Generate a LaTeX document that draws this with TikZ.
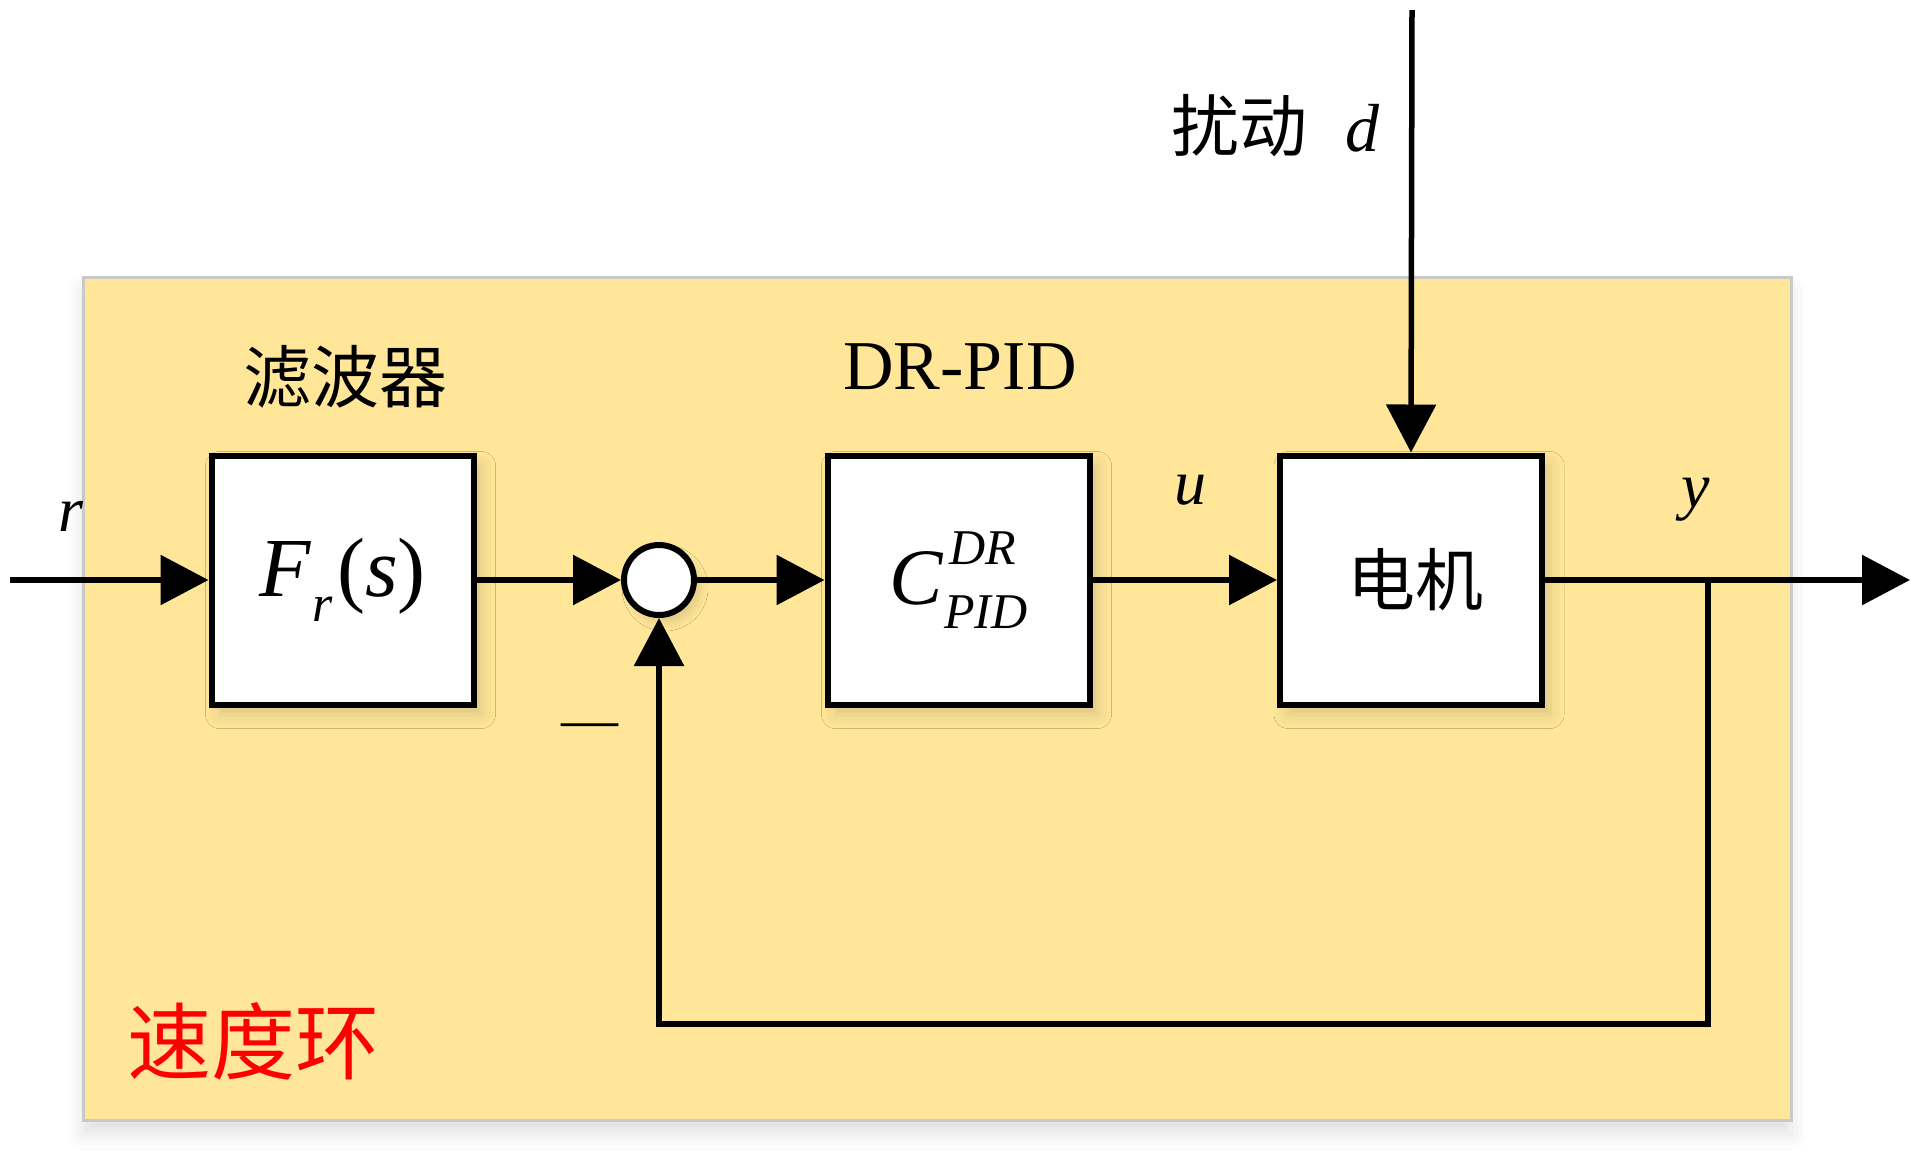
\documentclass[tikz,border=0pt]{standalone}
\usepackage{fontspec}
\setmainfont{Liberation Serif}
\newfontfamily\cjk{Noto Sans CJK SC}
\usetikzlibrary{arrows.meta,shadows.blur}
\definecolor{loopyellow}{HTML}{FFE699}
\definecolor{loopedge}{HTML}{C9C9C9}
\begin{document}
\begin{tikzpicture}[x=1pt,y=-1pt,
  blockbox/.style={draw=black,line width=6pt,fill=white,minimum width=262pt,minimum height=249pt,inner sep=0pt,
    blur shadow={shadow xshift=8pt,shadow yshift=-10pt,shadow blur radius=14pt,shadow opacity=14}},
  sumnode/.style={circle,draw=black,line width=6pt,fill=white,minimum size=70pt,inner sep=0pt,
    blur shadow={shadow xshift=6pt,shadow yshift=-8pt,shadow blur radius=8pt,shadow opacity=12}},
  conn/.style={line width=6pt},
  arr/.style={conn,-{Triangle[length=48pt,width=49pt]}},
  cjklabel/.style={font=\cjk\fontsize{68}{80}\selectfont,inner sep=0pt},
  varlabel/.style={font=\fontsize{64}{70}\selectfont\itshape,inner sep=0pt}
]
\useasboundingbox (0,0) rectangle (1920,1163);
% loop background
\node[draw=loopedge,line width=3pt,fill=loopyellow,minimum width=1708pt,minimum height=843pt,inner sep=0pt,
  blur shadow={shadow xshift=0pt,shadow yshift=-14pt,shadow blur radius=16pt,shadow opacity=12}] (loop) at (937,698.5) {};
\node[font=\cjk\fontsize{84}{90}\selectfont,text=red,inner sep=0pt] (looplbl) at (253,1041) {速度环};

% blocks
\node[blockbox] (filt) at (342.5,580) {\fontsize{84}{90}\selectfont\itshape F\kern0.02em\raisebox{-0.3em}{\fontsize{52}{56}\selectfont r}\kern0.06em\upshape(\itshape s\upshape)};
\node[blockbox] (ctrl) at (958.5,580) {\fontsize{80}{86}\selectfont\itshape C\kern0.08em\rlap{\raisebox{0.5em}{\fontsize{50}{54}\selectfont DR}}\kern-0.06em\raisebox{-0.3em}{\fontsize{50}{54}\selectfont PID}};
\node[blockbox] (motor) at (1411,580) {};
\node[cjklabel] (motorlbl) at (1415,580) {电机};
\node[sumnode] (sum) at (659,580) {};

% titles
\node[cjklabel] (filtlbl) at (345,377) {滤波器};
\node[font=\fontsize{70}{76}\selectfont,inner sep=0pt] (ctrllbl) at (960,367) {DR-PID};
\node[inner sep=0pt,anchor=east] (distlbl) at (1380,126) {{\cjk\fontsize{68}{80}\selectfont 扰动}\hspace*{38pt}{\fontsize{68}{76}\selectfont\itshape d}};

% signal labels
\node[varlabel] (rlbl) at (71,516) {r};
\node[varlabel] (ulbl) at (1190,490) {u};
\node[varlabel] (ylbl) at (1696,500) {y};
\node[font=\fontsize{57}{60}\selectfont,inner sep=0pt] (minus) at (590,731) {—};

% coordinates
\coordinate (in) at (10,580);
\coordinate (out) at (1910,580);
\coordinate (branch) at (1708,580);
\coordinate (fbR) at (1708,1024);
\coordinate (fbL) at (659,1024);
\coordinate (dtop) at (1412,10);

% connectors
\draw[arr] (in) -- (filt.west);
\draw[arr] (filt.east) -- (sum.west);
\draw[arr] (sum.east) -- (ctrl.west);
\draw[arr] (ctrl.east) -- (motor.west);
\draw[arr] (motor.east) -- (out);
\draw[arr] (branch) -- (fbR) -- (fbL) -- (sum.south);
\draw[arr,line width=5.5pt] (dtop) -- (motor.north);
\end{tikzpicture}
\end{document}
